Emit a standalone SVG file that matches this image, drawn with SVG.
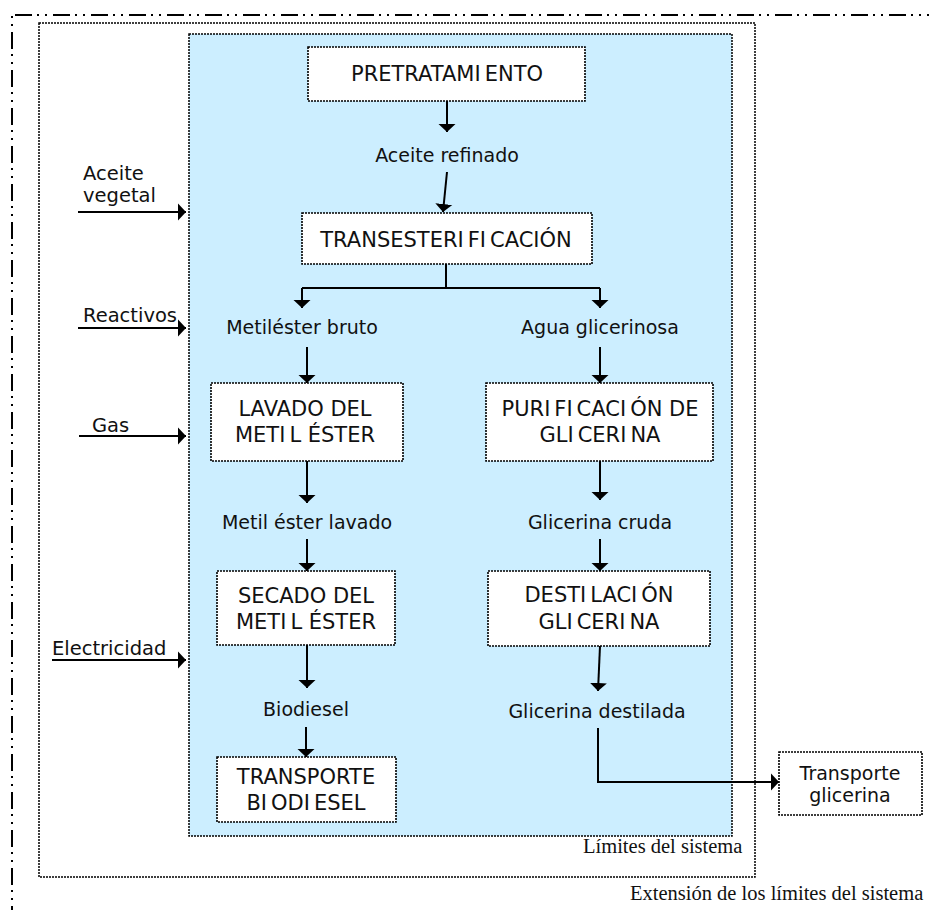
<svg xmlns="http://www.w3.org/2000/svg" width="929" height="910" viewBox="0 0 929 910">
  <style>
    .bg { fill: #ffffff; }
    .frame { fill: none; stroke: #000; stroke-width: 1.5; stroke-dasharray: 2 1; }
    .zone { fill: #cceeff; stroke: #000; stroke-width: 1.5; stroke-dasharray: 2 1; }
    .box { fill: #ffffff; stroke: #000; stroke-width: 1.6; stroke-dasharray: 2 1; }
    .ext { fill: none; stroke: #000; stroke-width: 2; stroke-dasharray: 17 5 2 6 2 6; }
    .t { font-family: "DejaVu Sans", "Liberation Sans", sans-serif; font-size: 19px; fill: #111; }
    .u { font-size: 21px; }
    .c { text-anchor: middle; }
    .s { font-family: "Liberation Serif", "Times New Roman", serif; font-size: 20.5px; fill: #111; }
    .ln { fill: none; stroke: #000; stroke-width: 2; }
    .ar { fill: none; stroke: #000; stroke-width: 2; marker-end: url(#head); }
  </style>
  <defs>
    <marker id="head" markerUnits="userSpaceOnUse" markerWidth="10" markerHeight="20" viewBox="0 -10 10 20" refX="8" refY="0" orient="auto">
      <path d="M0,-8.5 L8,0 L0,8.5 Z" fill="#000"/>
    </marker>
  </defs>

  <rect class="bg" x="0" y="0" width="929" height="910"/>

  <!-- extended system boundary (dash-dot-dot) -->
  <line class="ext" x1="15" y1="15" x2="929" y2="15"/>
  <line class="ext" x1="12" y1="15" x2="12" y2="910" stroke-dashoffset="21"/>

  <!-- system boundary -->
  <rect class="frame" x="39" y="23" width="716" height="854"/>
  <!-- process zone -->
  <rect class="zone" x="189" y="34" width="543" height="802"/>

  <!-- process nodes -->
  <g id="pretratamiento">
    <rect class="box" x="308" y="47" width="277" height="54"/>
    <text class="t u c" x="447" y="81">PRETRATAMI<tspan dx="4">ENTO</tspan></text>
  </g>
  <g id="aceite-refinado">
    <text class="t c" x="447" y="162">Aceite refinado</text>
  </g>
  <g id="transesterificacion">
    <rect class="box" x="302" y="213" width="290" height="51"/>
    <text class="t u c" x="446" y="247">TRANSESTERI<tspan dx="4">FI</tspan><tspan dx="4">CACIÓN</tspan></text>
  </g>
  <g id="metilester-bruto">
    <text class="t c" x="302" y="334">Metiléster bruto</text>
  </g>
  <g id="agua-glicerinosa">
    <text class="t c" x="600" y="334">Agua glicerinosa</text>
  </g>
  <g id="lavado">
    <rect class="box" x="211" y="383" width="192" height="78"/>
    <text class="t u c" x="305" y="416">LAVADO DEL</text>
    <text class="t u c" x="305" y="442">METI<tspan dx="4">L ÉSTER</tspan></text>
  </g>
  <g id="purificacion">
    <rect class="box" x="486" y="383" width="227" height="78"/>
    <text class="t u c" x="600" y="416">PURI<tspan dx="4">FI</tspan><tspan dx="4">CACI</tspan><tspan dx="4">ÓN DE</tspan></text>
    <text class="t u c" x="600" y="442">GLI<tspan dx="4">CERI</tspan><tspan dx="4">NA</tspan></text>
  </g>
  <g id="metil-ester-lavado">
    <text class="t c" x="307" y="529">Metil éster lavado</text>
  </g>
  <g id="glicerina-cruda">
    <text class="t c" x="600" y="529">Glicerina cruda</text>
  </g>
  <g id="secado">
    <rect class="box" x="217" y="571" width="178" height="74"/>
    <text class="t u c" x="306" y="603">SECADO DEL</text>
    <text class="t u c" x="306" y="629">METI<tspan dx="4">L ÉSTER</tspan></text>
  </g>
  <g id="destilacion">
    <rect class="box" x="488" y="571" width="222" height="75"/>
    <text class="t u c" x="599" y="602">DESTI<tspan dx="4">LACI</tspan><tspan dx="4">ÓN</tspan></text>
    <text class="t u c" x="599" y="629">GLI<tspan dx="4">CERI</tspan><tspan dx="4">NA</tspan></text>
  </g>
  <g id="biodiesel">
    <text class="t c" x="306" y="716">Biodiesel</text>
  </g>
  <g id="glicerina-destilada">
    <text class="t c" x="597" y="718">Glicerina destilada</text>
  </g>
  <g id="transporte-biodiesel">
    <rect class="box" x="217" y="757" width="179" height="65"/>
    <text class="t u c" x="306" y="784">TRANSPORTE</text>
    <text class="t u c" x="306" y="810">BI<tspan dx="4">ODI</tspan><tspan dx="4">ESEL</tspan></text>
  </g>
  <g id="transporte-glicerina">
    <rect class="box" x="779" y="752" width="143" height="63"/>
    <text class="t c" x="850" y="780">Transporte</text>
    <text class="t c" x="850" y="802">glicerina</text>
  </g>

  <!-- inputs -->
  <g id="aceite-vegetal">
    <text class="t" x="83" y="180" style="font-size:19.5px">Aceite</text>
    <text class="t" x="83" y="202" style="font-size:19.5px">vegetal</text>
  </g>
  <g id="reactivos">
    <text class="t" x="83" y="322" style="font-size:19.5px">Reactivos</text>
  </g>
  <g id="gas">
    <text class="t" x="92" y="432" style="font-size:19.5px">Gas</text>
  </g>
  <g id="electricidad">
    <text class="t" x="52" y="655" style="font-size:19.5px">Electricidad</text>
  </g>

  <!-- boundary labels -->
  <g id="labels">
    <text class="s" x="583" y="853">Límites del sistema</text>
    <text class="s" x="630" y="900">Extensión de los límites del sistema</text>
  </g>

  <!-- connectors -->
  <g id="connectors">
    <path class="ar" d="M447,101 L447,132"/>
    <path class="ar" d="M447,172 L443,212"/>
    <path class="ln" d="M446,264 L446,288 M302,288 L600,288"/>
    <path class="ar" d="M302,288 L302,308"/>
    <path class="ar" d="M600,288 L600,308"/>
    <path class="ar" d="M307,347 L307,383"/>
    <path class="ar" d="M600,347 L600,383"/>
    <path class="ar" d="M307,461 L307,503"/>
    <path class="ar" d="M600,461 L600,500"/>
    <path class="ar" d="M307,539 L307,571"/>
    <path class="ar" d="M600,539 L600,571"/>
    <path class="ar" d="M307,645 L307,688"/>
    <path class="ar" d="M306,727 L306,757"/>
    <path class="ar" d="M600,646 L598,691"/>
    <path class="ar" d="M598,728 L598,782 L779,782"/>
    <path class="ar" d="M78,212 L186,212"/>
    <path class="ar" d="M78,328 L186,328"/>
    <path class="ar" d="M79,436 L186,436"/>
    <path class="ar" d="M52,660 L186,660"/>
  </g>
</svg>
